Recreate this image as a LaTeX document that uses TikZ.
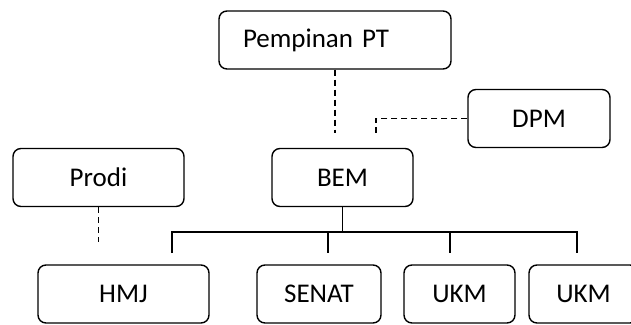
\documentclass[tikz,border=0pt]{standalone}
\usepackage{fontspec}
\setmainfont{Carlito}
\begin{document}
\begin{tikzpicture}[
		x=1pt, y=-1pt,
		box/.style = {rectangle, draw=black, rounded corners=8pt, line width=1.4pt, minimum height=58pt, inner sep=0pt, font=\fontsize{27}{31}\selectfont},
		dl/.style = {line width=1.4pt, dash pattern=on 6pt off 4pt},
		l/.style = {line width=1.4pt},
		]
		\clip (0,0) rectangle (631,324);
		
		%Nodes
		\node[box, minimum width=232pt, text width=184pt, inner xsep=24pt, align=left]	(pt)	at	(335, 40)	{Pempinan PT};
		\node[box, minimum width=142pt]	(dpm)	at	(539, 118.5)	{DPM};
		\node[box, minimum width=141pt]	(bem)	at	(342.5, 177.5)	{BEM};
		\node[box, minimum width=171pt]	(prodi)	at	(98.5, 177.5)	{Prodi};
		\node[box, minimum width=171pt]	(hmj)	at	(123.5, 294)	{HMJ};
		\node[box, minimum width=124pt]	(senat)	at	(319, 294)	{SENAT};
		\node[box, minimum width=111pt]	(ukm1)	at	(459.5, 294)	{UKM};
		\node[box, minimum width=109pt]	(ukm2)	at	(583.5, 294)	{UKM};
		
		%Free ends
		\coordinate	(ptEnd)		at	(335, 133);
		\coordinate	(dpmEnd)	at	(376, 135);
		\coordinate	(prodiEnd)	at	(98.5, 242);
		\coordinate	(bus)		at	(342.5, 232);
		\coordinate	(d1)	at	(172, 253);
		\coordinate	(d2)	at	(328, 253);
		\coordinate	(d3)	at	(450, 253);
		\coordinate	(d4)	at	(577, 253);
		
		%Lines
		\draw[dl]	(pt.south)		--	(ptEnd);
		\draw[dl]	(dpm.west)		-|	(dpmEnd);
		\draw[dl]	(prodi.south)	--	(prodiEnd);
		\draw[l]	(bem.south)		--	(bus);
		\draw[l]	(d1) |- (bus) -| (d4);
		\draw[l]	(bus -| d2)		--	(d2);
		\draw[l]	(bus -| d3)		--	(d3);
	\end{tikzpicture}
\end{document}
